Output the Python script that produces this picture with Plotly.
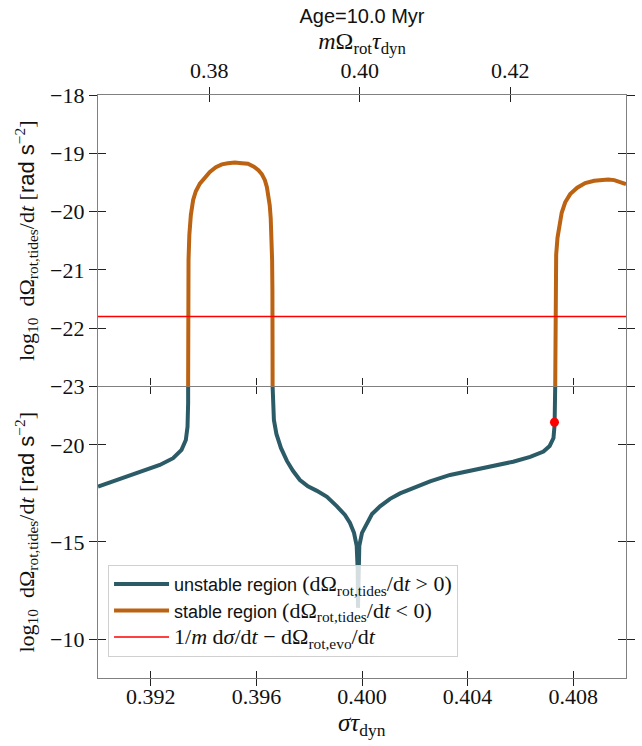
import plotly.graph_objects as go

# ---------------- data ----------------
# top panel: stable region, log10 |dOmega/dt| (orange)
stable_left_sigma = [0.393414, 0.393414, 0.393418, 0.393429, 0.393460, 0.393517, 0.393604,
                     0.393706, 0.393858, 0.394047, 0.394237, 0.394464, 0.394692, 0.394919,
                     0.395185, 0.395450, 0.395678, 0.395905, 0.396076, 0.396209, 0.396322,
                     0.396398, 0.396455, 0.396504, 0.396542, 0.396573, 0.396595, 0.396607,
                     0.396614, 0.396614]
stable_left_val = [-23.0, -22.03, -21.35, -20.83, -20.40, -20.06, -19.80, -19.65, -19.52,
                   -19.41, -19.32, -19.24, -19.19, -19.17, -19.16, -19.17, -19.18, -19.23,
                   -19.29, -19.36, -19.46, -19.58, -19.72, -19.89, -20.11, -20.40, -20.83,
                   -21.35, -22.03, -23.0]
stable_right_sigma = [0.407318, 0.407318, 0.407329, 0.407355, 0.407405, 0.407469, 0.407564,
                      0.407697, 0.407886, 0.408152, 0.408455, 0.408796, 0.409100, 0.409327,
                      0.409555, 0.409782, 0.410000]
stable_right_val = [-23.0, -21.86, -21.17, -20.74, -20.45, -20.23, -20.02, -19.84, -19.70,
                    -19.59, -19.51, -19.47, -19.45, -19.45, -19.46, -19.49, -19.53]

# bottom panel: unstable region, log10 dOmega/dt (teal)
unstable_left_sigma = [0.390000, 0.390700, 0.391583, 0.392341, 0.392845, 0.393164, 0.393327,
                       0.393391, 0.393414, 0.393414]
unstable_left_val = [-17.85, -18.19, -18.62, -18.96, -19.31, -19.74, -20.25, -20.93, -22.14, -23.0]
unstable_mid_sigma = [0.396614, 0.396626, 0.396663, 0.396758, 0.396929, 0.397156, 0.397384,
                      0.397649, 0.397953, 0.398294, 0.398673, 0.399052, 0.399355, 0.399545,
                      0.399697, 0.399799, 0.399837, 0.399848, 0.399860, 0.399898, 0.400000,
                      0.400178, 0.400379, 0.400682, 0.401062, 0.401441, 0.402009, 0.402578,
                      0.403336, 0.404095, 0.404853, 0.405725, 0.406370, 0.406874, 0.407109,
                      0.407253, 0.407295, 0.407310, 0.407318]
unstable_mid_val = [-23.0, -22.05, -21.28, -20.56, -19.84, -19.17, -18.66, -18.19, -17.86,
                    -17.63, -17.32, -16.83, -16.39, -15.98, -15.47, -14.80, -13.57, -11.61,
                    -13.57, -14.80, -15.47, -15.98, -16.44, -16.83, -17.22, -17.50, -17.83,
                    -18.12, -18.45, -18.66, -18.86, -19.13, -19.38, -19.65, -19.94, -20.35,
                    -21.02, -21.79, -23.0]

# threshold line (red) and marked point
threshold_sigma = [0.390, 0.410]
threshold_val = [-21.80, -21.80]
marker_sigma = [0.40729]
marker_val = [-21.16]

# ticks
sigma_ticks = [0.392, 0.396, 0.400, 0.404, 0.408]
sigma_ticktext = ["0.392", "0.396", "0.400", "0.404", "0.408"]
top_ticks = [0.38, 0.40, 0.42]
top_ticktext = ["0.38", "0.40", "0.42"]
upper_yticks = [-23, -22, -21, -20, -19, -18]
upper_yticktext = ["", "−22", "−21", "−20", "−19", "−18"]
lower_yticks = [-23, -20, -15, -10]
lower_yticktext = ["−23", "−20", "−15", "−10"]

# ---------------- styling ----------------
TEAL = "#2c5b68"
ORANGE = "#bb6312"
RED = "#ff0000"
SERIF = "Liberation Serif"
SANS = "Liberation Sans"
SPINE = "#808080"
TICKC = "#222222"

fig = go.Figure()

unstable_name = ('unstable region <span style="font-family:Liberation Serif;font-size:22px">'
                 '(dΩ<sub>rot,tides</sub>/d<i>t</i> &gt; 0)</span>')
stable_name = ('stable region <span style="font-family:Liberation Serif;font-size:22px">'
               '(dΩ<sub>rot,tides</sub>/d<i>t</i> &lt; 0)</span>')
red_name = ('<span style="font-family:Liberation Serif;font-size:22px">1/<i>m</i> d<i>σ</i>/d<i>t</i> − '
            'dΩ<sub>rot,evo</sub>/d<i>t</i></span>')

fig.add_trace(go.Scatter(x=unstable_left_sigma, y=unstable_left_val, mode="lines",
                         line=dict(color=TEAL, width=4), name=unstable_name,
                         legendgroup="u", xaxis="x", yaxis="y"))
fig.add_trace(go.Scatter(x=unstable_mid_sigma, y=unstable_mid_val, mode="lines",
                         line=dict(color=TEAL, width=4), name=unstable_name,
                         legendgroup="u", showlegend=False, xaxis="x", yaxis="y"))
fig.add_trace(go.Scatter(x=stable_left_sigma, y=stable_left_val, mode="lines",
                         line=dict(color=ORANGE, width=4), name=stable_name,
                         legendgroup="s", xaxis="x2", yaxis="y2"))
fig.add_trace(go.Scatter(x=stable_right_sigma, y=stable_right_val, mode="lines",
                         line=dict(color=ORANGE, width=4), name=stable_name,
                         legendgroup="s", showlegend=False, xaxis="x2", yaxis="y2"))
fig.add_trace(go.Scatter(x=threshold_sigma, y=threshold_val, mode="lines",
                         line=dict(color=RED, width=1.5), name=red_name,
                         xaxis="x2", yaxis="y2"))
fig.add_trace(go.Scatter(x=marker_sigma, y=marker_val, mode="markers",
                         marker=dict(color=RED, size=9), showlegend=False,
                         xaxis="x", yaxis="y"))

# empty helper traces so that the overlay axes (inward tick halves, top axis) are drawn
for xa, ya in [("x3", "y"), ("x", "y3"), ("x4", "y2"), ("x5", "y2"), ("x2", "y4")]:
    fig.add_trace(go.Scatter(x=[], y=[], xaxis=xa, yaxis=ya, showlegend=False,
                             hoverinfo="skip", mode="lines"))

tickfont = dict(family=SERIF, size=22, color="#111")
common_ax = dict(showgrid=False, zeroline=False, tickcolor=TICKC, tickwidth=1,
                 automargin=False)

ytitle = ('log<sub>10</sub>  dΩ<sub>rot,tides</sub>/d<i>t</i> '
          '[<span style="font-family:Liberation Sans">rad s</span><sup>−2</sup>]')

fig.update_layout(
    width=642, height=746,
    margin=dict(l=98, r=16, t=95, b=68, autoexpand=False),
    paper_bgcolor="white", plot_bgcolor="white",
    title=dict(text="Age=10.0 Myr", font=dict(family=SANS, size=20, color="#111"),
               x=0.5, xref="paper", xanchor="center", y=1 - 16 / 746, yref="container",
               yanchor="middle"),
    xaxis=dict(domain=[0, 1], anchor="y", range=[0.390, 0.410], tickvals=sigma_ticks,
               ticktext=sigma_ticktext, ticks="outside", ticklen=7, showline=True,
               linecolor=SPINE, linewidth=1.3, mirror="ticks", tickfont=tickfont,
               ticklabelstandoff=-9, **common_ax),
    xaxis3=dict(overlaying="x", anchor="y", range=[0.390, 0.410], tickvals=sigma_ticks,
                ticks="inside", ticklen=7, showticklabels=False, showline=False,
                mirror="ticks", **common_ax),
    xaxis2=dict(domain=[0, 1], anchor="y2", range=[0.390, 0.410], showticklabels=False,
                ticks="", showline=False, **common_ax),
    xaxis4=dict(overlaying="x2", anchor="y2", side="top", range=[0.3652, 0.4354],
                tickvals=top_ticks, ticktext=top_ticktext, ticks="outside", ticklen=7,
                showline=True, linecolor=SPINE, linewidth=1.3, tickfont=tickfont,
                title=dict(text="<i>m</i>Ω<sub>rot</sub><i>τ</i><sub>dyn</sub>",
                           font=dict(family=SERIF, size=24, color="#111"), standoff=0),
                **common_ax),
    xaxis5=dict(overlaying="x2", anchor="y2", side="top", range=[0.3652, 0.4354],
                tickvals=top_ticks, ticks="inside", ticklen=7, showticklabels=False,
                showline=False, **common_ax),
    yaxis=dict(domain=[0, 0.5], anchor="x", range=[-8, -23], tickvals=lower_yticks,
               ticktext=lower_yticktext, ticks="outside", ticklen=8, showline=True,
               linecolor=SPINE, linewidth=1.3, mirror="ticks", tickfont=tickfont,
               title=dict(text=ytitle, font=dict(family=SERIF, size=22, color="#111"),
                          standoff=9), **common_ax),
    yaxis3=dict(overlaying="y", anchor="x", range=[-8, -23], tickvals=lower_yticks,
                ticks="inside", ticklen=8, showticklabels=False, showline=False,
                mirror="ticks", **common_ax),
    yaxis2=dict(domain=[0.5, 1], anchor="x2", range=[-23, -18], tickvals=upper_yticks,
                ticktext=upper_yticktext, ticks="outside", ticklen=8, showline=True,
                linecolor=SPINE, linewidth=1.3, mirror="ticks", tickfont=tickfont,
                title=dict(text=ytitle, font=dict(family=SERIF, size=22, color="#111"),
                           standoff=9), **common_ax),
    yaxis4=dict(overlaying="y2", anchor="x2", range=[-23, -18], tickvals=upper_yticks,
                ticks="inside", ticklen=8, showticklabels=False, showline=False,
                mirror="ticks", **common_ax),
    legend=dict(x=0.019, y=0.194, xanchor="left", yanchor="top",
                bgcolor="rgba(255,255,255,0.8)", bordercolor="#d0d0d0", borderwidth=1,
                font=dict(family=SANS, size=18, color="#111"), tracegroupgap=0,
                itemwidth=55),
    annotations=[dict(text="<i>στ</i><sub>dyn</sub>", xref="paper", yref="paper",
                      x=0.5, y=-0.049, xanchor="center", yanchor="top", showarrow=False,
                      font=dict(family=SERIF, size=25, color="#111"))],
    showlegend=True,
)

fig.write_html("out.html", post_script="document.body.style.margin='0px';",
               config={"displayModeBar": False})
